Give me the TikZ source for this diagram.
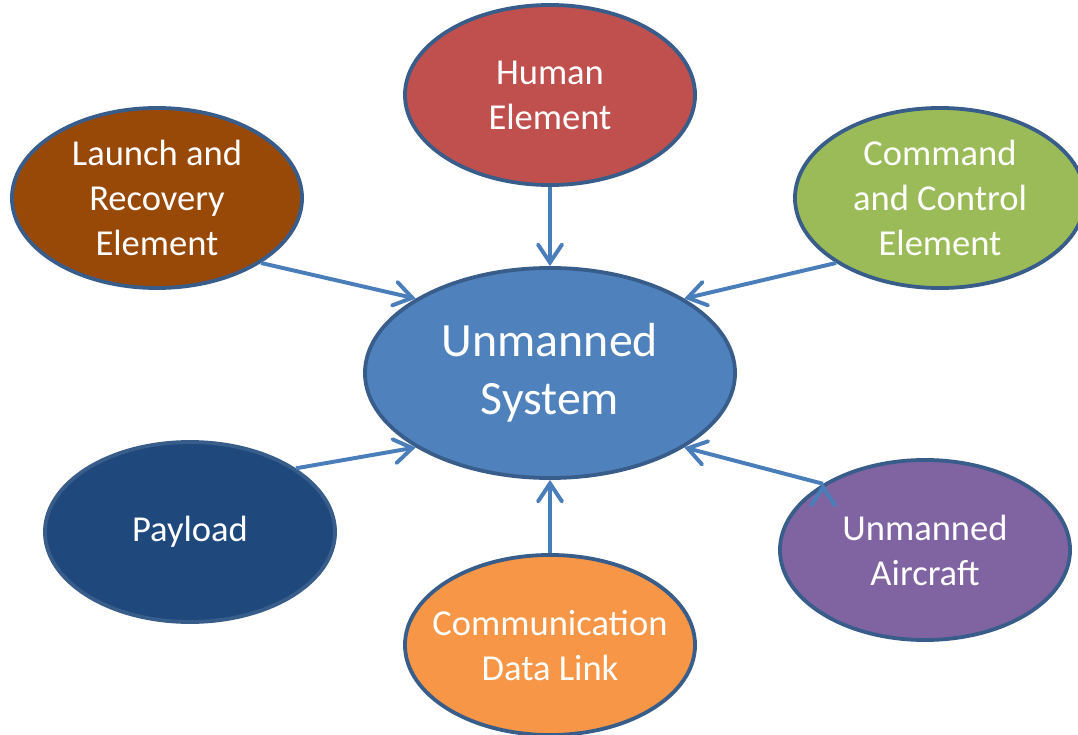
\documentclass[tikz,border=0pt]{standalone}
\usepackage{fontspec}
\setmainfont{Carlito}
\usetikzlibrary{shapes.geometric,arrows.meta}

\definecolor{bordercol}{HTML}{385D8A}
\definecolor{arrowcol}{HTML}{4A7EBB}
\definecolor{humancol}{HTML}{C0504D}
\definecolor{launchcol}{HTML}{984807}
\definecolor{commandcol}{HTML}{9BBB59}
\definecolor{systemcol}{HTML}{4F81BD}
\definecolor{payloadcol}{HTML}{1F497D}
\definecolor{linkcol}{HTML}{F79646}
\definecolor{aircraftcol}{HTML}{8064A2}

\begin{document}
\begin{tikzpicture}[x=0.025cm, y=-0.025cm,
    elem/.style = {ellipse, draw=bordercol, line width=2.7pt, inner sep=0pt,
                   minimum width=7.25cm, minimum height=4.5cm},
    txt/.style = {text=white, align=center, font=\fontsize{26}{32}\selectfont},
    bigtxt/.style = {text=white, align=center, font=\fontsize{34}{41}\selectfont},
    link/.style = {draw=arrowcol, line width=2.8pt,
                   -{Straight Barb[length=0.45cm, width=0.6cm, line cap=round]}}]
         \useasboundingbox (0,0) rectangle (1078,735);
         \node[elem, fill=systemcol, minimum width=9.25cm, minimum height=5.25cm,
               label={[bigtxt]center:Unmanned\\System}] (us) at (550,373) {};  %centre
         \node[elem, fill=humancol, label={[txt]center:Human\\Element}] (hum) at (550,95) {};
         \node[elem, fill=launchcol, label={[txt]center:Launch and\\Recovery\\Element}] (lre) at (157,198) {};
         \node[elem, fill=commandcol, label={[txt]center:Command\\and Control\\Element}] (cce) at (940,198) {};
         \node[elem, fill=payloadcol, label={[txt]center:Payload}] (pay) at (190,532) {};
         \node[elem, fill=linkcol, label={[txt]center:Communication\\Data Link}] (cdl) at (550,645) {};
         \node[elem, fill=aircraftcol, label={[txt]center:Unmanned\\Aircraft}] (ua) at (925,550) {};

         \path[link]
         (hum) edge (us)
         (lre.-32) edge (us.151)
         (cce.212) edge (us.29)
         (pay.31) edge (us.209)
         (cdl) edge (us)
         (ua.147) edge (us.331);
       \end{tikzpicture}
\end{document}
